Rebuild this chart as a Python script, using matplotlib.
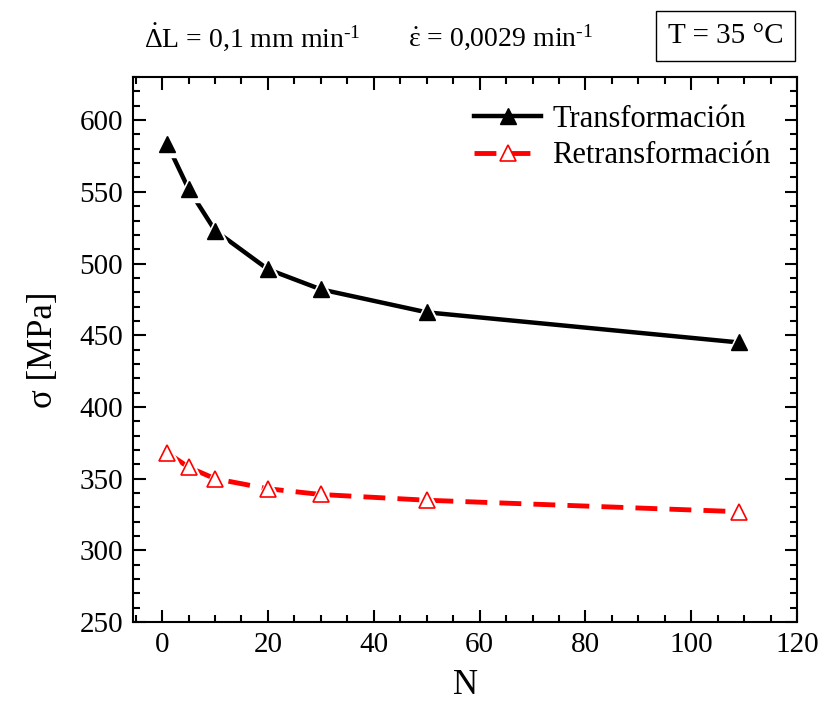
import matplotlib.pyplot as plt
from matplotlib.ticker import MultipleLocator
from matplotlib.lines import Line2D

plt.rcParams['font.family'] = ['Liberation Serif', 'DejaVu Serif']
plt.rcParams['mathtext.fontset'] = 'custom'
plt.rcParams['mathtext.rm'] = 'Liberation Serif'
plt.rcParams['mathtext.it'] = 'Liberation Serif:italic'

# datos
N_trans = [1, 5, 10, 20, 30, 50, 109]
sig_trans = [583, 552, 523, 496, 482, 466, 445]
N_retrans = [1, 5, 10, 20, 30, 50, 109]
sig_retrans = [368, 358, 350, 343, 339, 335, 327]

fig = plt.figure(figsize=(8.21, 7.07), dpi=100)
ax = fig.add_axes([0.162, 0.120, 0.809, 0.771])

red_dash = (0, (4.5, 2.5))

# lineas
ax.plot(N_trans, sig_trans, color='black', lw=3.2, zorder=2)
ax.plot(N_retrans, sig_retrans, color='red', lw=3.5, ls=red_dash, zorder=2)
# fondo blanco detras de los marcadores para cortar la linea (estilo Origin)
ax.plot(N_trans, sig_trans, ls='none', marker='^', ms=18, color='white', zorder=3)
ax.plot(N_retrans, sig_retrans, ls='none', marker='^', ms=18, color='white', zorder=3)
# marcadores
ax.plot(N_trans, sig_trans, ls='none', marker='^', ms=12, mfc='black', mec='black', zorder=4)
ax.plot(N_retrans, sig_retrans, ls='none', marker='^', ms=12, mfc='white', mec='red',
        mew=1.2, zorder=4)

ax.set_xlim(-5.5, 120)
ax.set_ylim(250, 630)
ax.xaxis.set_major_locator(MultipleLocator(20))
ax.xaxis.set_minor_locator(MultipleLocator(5))
ax.yaxis.set_major_locator(MultipleLocator(50))
ax.yaxis.set_minor_locator(MultipleLocator(10))
ax.tick_params(which='both', direction='in', top=True, right=True, width=1.5, labelsize=21)
ax.tick_params(which='major', length=9, pad=7)
ax.tick_params(which='minor', length=5)
for s in ax.spines.values():
    s.set_linewidth(1.5)

ax.set_xlabel('N', fontsize=25, labelpad=8)
ax.set_ylabel('σ [MPa]', fontsize=25, labelpad=14)

handles = [
    Line2D([], [], color='black', lw=3.2, marker='^', ms=11, mfc='black', mec='black'),
    Line2D([], [], color='red', lw=3.5, ls=red_dash, marker='^', ms=11, mfc='white',
           mec='red', mew=1.2),
]
ax.legend(handles, ['Transformación', 'Retransformación'], loc='upper right',
          bbox_to_anchor=(0.985, 0.98), frameon=False, fontsize=22, handlelength=2.2,
          handletextpad=0.35, labelspacing=0.25, borderaxespad=0.15)

fig.text(0.175, 0.947, r'$\dot{\Delta}$L = 0,1 mm min$^{\text{-1}}$', fontsize=20, va='center')
fig.text(0.497, 0.947, r'$\dot{\mathrm{ε}}$ = 0,0029 min$^{\text{-1}}$', fontsize=20, va='center')
fig.text(0.884, 0.949, 'T = 35 °C', fontsize=21, va='center', ha='center',
         bbox=dict(boxstyle='square,pad=0.4', fc='white', ec='black', lw=1))

fig.savefig('out.png', dpi=100)
